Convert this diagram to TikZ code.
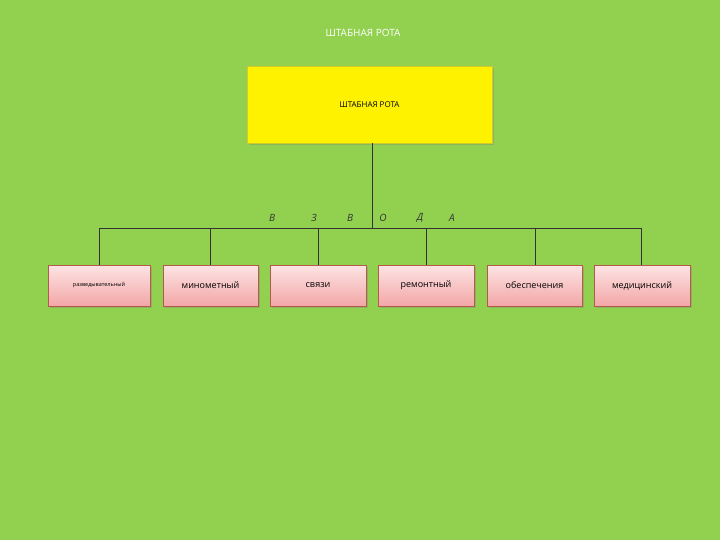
\documentclass[tikz,border=0pt]{standalone}
\usepackage{fontspec}
\setmainfont{Open Sans}
\usetikzlibrary{shadows}
\definecolor{bg}{HTML}{92D050}
\definecolor{pinkt}{HTML}{FDE4E4}
\definecolor{pinkb}{HTML}{F3A6A6}
\definecolor{pinkd}{HTML}{B55A4A}
\tikzset{
 unit/.style={draw=pinkd,top color=pinkt,bottom color=pinkb,minimum height=41pt,inner sep=1pt,font=\fontsize{9}{10}\selectfont,drop shadow={shadow xshift=1.5pt,shadow yshift=-1.5pt,opacity=.35}},
 conn/.style={draw=black!80,line width=0.7pt},
 letter/.style={font=\itshape\fontsize{10}{12}\selectfont,text=black!80}
}
\begin{document}
\begin{tikzpicture}[x=1pt,y=-1pt]
\fill[bg] (0,0) rectangle (720,540);
\useasboundingbox (0,0) rectangle (720,540);
\node[text=white,font=\fontsize{10}{12}\selectfont] (title) at (363,33) {ШТАБНАЯ РОТА};
\node[fill=yellow,draw=yellow!80!black,minimum width=245pt,minimum height=77pt,font=\fontsize{8}{10}\selectfont,drop shadow={shadow xshift=2pt,shadow yshift=-2pt,opacity=.35}] (top) at (369.5,104.5) {ШТАБНАЯ РОТА};
\coordinate (j) at (372,228);
\coordinate (l) at (99,228);
\coordinate (r) at (641,228);
\draw[conn] (top.south -| j) -- (j);
\draw[conn] (l) -- (r);
\node[unit,minimum width=102pt,font=\fontsize{5.5}{7}\selectfont] (b1) at (99,285.5) {разведывательный};
\node[unit,minimum width=95pt] (b2) at (210.5,285.5) {минометный};
\node[unit,minimum width=96pt] (b3) at (318,285.5) {связи};
\node[unit,minimum width=96pt] (b4) at (426,285.5) {ремонтный};
\node[unit,minimum width=95pt] (b5) at (534.5,285.5) {обеспечения};
\node[unit,minimum width=96pt] (b6) at (642,285.5) {медицинский};
\foreach \b/\x in {b1/99,b2/210,b3/318,b4/426,b5/535,b6/641}
  \draw[conn] (\x,228) -- (\b.north -| {(\x,0)});
\node[letter] (v1) at (272,218) {В};
\node[letter] (z) at (314,218) {З};
\node[letter] (v2) at (350,218) {В};
\node[letter] (o) at (383,218) {О};
\node[letter] (d) at (420,218) {Д};
\node[letter] (a) at (452,218) {А};
\end{tikzpicture}
\end{document}
